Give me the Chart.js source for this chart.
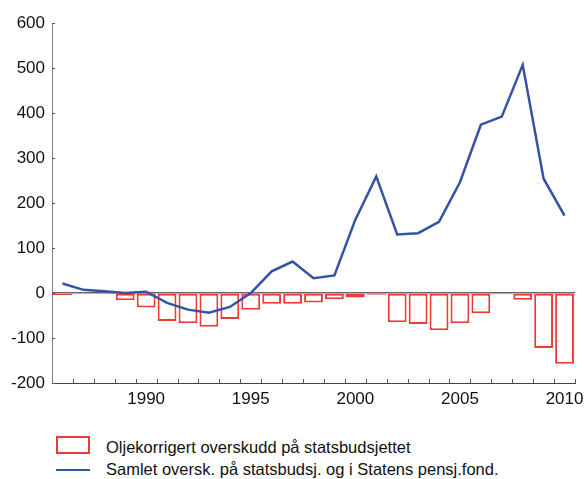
<!DOCTYPE html>
<html>
<head>
<meta charset="utf-8">
<script src="https://cdn.jsdelivr.net/npm/chart.js@4/dist/chart.umd.min.js"></script>
<style>
  body { margin: 0; background: #fff; }
  #wrap { position: relative; width: 584px; height: 479px; font-family: "Liberation Sans", Arial, sans-serif; }
  #chartBox { position: absolute; left: 0; top: 0; width: 584px; height: 415px; }
  .leg { position: absolute; left: 56px; width: 34px; }
  .legText { position: absolute; left: 106px; font-size: 16.5px; line-height: 18px; color: #111; white-space: nowrap; }
</style>
</head>
<body>
<div id="wrap">
  <div id="chartBox"><canvas id="chart"></canvas></div>
  <div class="leg" style="top:436px;height:18px;box-sizing:border-box;border:2px solid #ee3a34;background:#fff;"></div>
  <div class="legText" style="top:438px;">Oljekorrigert overskudd på statsbudsjettet</div>
  <div class="leg" style="top:469px;height:0;border-top:2.5px solid #3553a6;"></div>
  <div class="legText" style="top:460px;">Samlet oversk. på statsbudsj. og i Statens pensj.fond.</div>
</div>
<script>
// data (billion NOK)
const years = ['1986', '1987', '1988', '1989', '1990', '1991', '1992', '1993', '1994', '1995',
  '1996', '1997', '1998', '1999', '2000', '2001', '2002', '2003', '2004', '2005',
  '2006', '2007', '2008', '2009', '2010'];
const oilAdjustedSurplus = [-5, 0, -2, -16, -32, -62, -67, -75, -58, -37,
  -24, -24, -21, -14, -10, -4, -65, -69, -83, -67,
  -45, -3, -15, -122, -157];
const totalSurplus = [21, 7, 4, 0, 3, -22, -37, -44, -31, 0,
  48, 70, 33, 39, 163, 259, 130, 133, 158, 246,
  374, 392, 507, 254, 172];
const yTicks = [-200, -100, 0, 100, 200, 300, 400, 500, 600];
const shownYears = ['1990', '1995', '2000', '2005', '2010'];

// small inward tick marks on both axes
const innerTicks = {
  id: 'innerTicks',
  afterDraw(chart) {
    const ctx = chart.ctx;
    const y = chart.scales.y;
    const area = chart.chartArea;
    ctx.save();
    ctx.strokeStyle = '#555';
    ctx.lineWidth = 1;
    ctx.beginPath();
    yTicks.forEach((v) => {
      const py = Math.round(y.getPixelForValue(v)) + 0.5;
      ctx.moveTo(area.left, py);
      ctx.lineTo(area.left + 3, py);
    });
    const step = (area.right - area.left) / years.length;
    for (let i = 1; i <= years.length; i++) {
      const px = Math.round(area.left + i * step) + 0.5;
      ctx.moveTo(px, area.bottom);
      ctx.lineTo(px, area.bottom - 4);
    }
    ctx.stroke();
    ctx.restore();
  }
};

const ctx = document.getElementById('chart').getContext('2d');
new Chart(ctx, {
  data: {
    labels: years,
    datasets: [
      {
        type: 'line',
        label: 'Samlet oversk. på statsbudsj. og i Statens pensj.fond.',
        data: totalSurplus,
        borderColor: '#3553a6',
        borderWidth: 2.5,
        pointRadius: 0,
        tension: 0,
        order: 0,
      },
      {
        type: 'bar',
        label: 'Oljekorrigert overskudd på statsbudsjettet',
        data: oilAdjustedSurplus,
        backgroundColor: '#fff',
        borderColor: '#ee3a34',
        borderWidth: 2,
        borderSkipped: false,
        barPercentage: 0.9,
        categoryPercentage: 1,
        order: 1,
      },
    ],
  },
  options: {
    responsive: true,
    maintainAspectRatio: false,
    animation: false,
    layout: { padding: { top: 23, right: 9, left: 0, bottom: 0 } },
    plugins: { legend: { display: false }, tooltip: { enabled: false } },
    scales: {
      x: {
        offset: true,
        grid: { display: false, drawTicks: false },
        border: { color: '#444', width: 1 },
        ticks: {
          autoSkip: false,
          maxRotation: 0,
          padding: 6,
          color: '#111',
          font: { family: '"Liberation Sans", Arial, sans-serif', size: 17 },
          callback: (value, index) => (shownYears.includes(years[index]) ? years[index] : ''),
        },
        afterFit: (scale) => {
          scale.height = 32;
          scale.paddingLeft = 0;
          scale.paddingRight = 0;
        },
      },
      y: {
        min: -200,
        max: 600,
        afterBuildTicks: (scale) => { scale.ticks = yTicks.map((v) => ({ value: v })); },
        grid: {
          drawTicks: false,
          color: (c) => (c.tick && c.tick.value === 0 ? '#666' : 'transparent'),
          lineWidth: 1.5,
        },
        border: { color: '#808080', width: 1 },
        ticks: {
          padding: 7,
          color: '#111',
          font: { family: '"Liberation Sans", Arial, sans-serif', size: 17 },
        },
        afterFit: (scale) => { scale.width = 52; },
      },
    },
  },
  plugins: [innerTicks],
});
</script>
</body>
</html>
